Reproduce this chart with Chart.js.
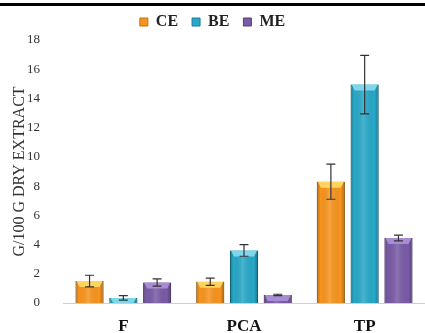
<!DOCTYPE html>
<html>
<head>
<meta charset="utf-8">
<script src="https://cdn.jsdelivr.net/npm/chart.js@4.4.0/dist/chart.umd.min.js"></script>
<style>
  html, body { margin: 0; padding: 0; background: #fff; }
  #wrap { width: 425px; height: 333px; position: relative; }
</style>
</head>
<body>
<div id="wrap"><canvas id="barChart" width="425" height="333"></canvas></div>
<script>
// categories and values
const categories = ['F', 'PCA', 'TP'];
const seriesNames = ['CE', 'BE', 'ME'];
const ceValues = [1.5, 1.45, 8.3];
const beValues = [0.35, 3.6, 14.95];
const meValues = [1.4, 0.55, 4.45];
// +/- error
const ceErr = [0.4, 0.25, 1.2];
const beErr = [0.15, 0.4, 2.0];
const meErr = [0.25, 0.05, 0.2];
const yTicks = [0, 2, 4, 6, 8, 10, 12, 14, 16, 18];

const baseColors = ['#F7941D', '#28A8C8', '#7A5BA6'];
const capColors = ['#FFD45C', '#7FD6EA', '#A98DD4'];
const errs = [ceErr, beErr, meErr];

// shading + error bars drawn on top of the plain bars
const barDecor = {
  id: 'barDecor',
  afterDatasetsDraw(chart) {
    const c = chart.ctx;
    const yScale = chart.scales.y;
    chart.data.datasets.forEach((ds, di) => {
      const meta = chart.getDatasetMeta(di);
      meta.data.forEach((bar, i) => {
        const p = bar.getProps(['x', 'y', 'base', 'width'], true);
        const l = p.x - p.width / 2, r = p.x + p.width / 2;
        const h = p.base - p.y;
        c.save();
        let g = c.createLinearGradient(l, 0, r, 0);
        g.addColorStop(0, 'rgba(0,0,0,0.28)');
        g.addColorStop(0.12, 'rgba(0,0,0,0.0)');
        g.addColorStop(0.45, 'rgba(255,255,255,0.15)');
        g.addColorStop(0.85, 'rgba(0,0,0,0.0)');
        g.addColorStop(1, 'rgba(0,0,0,0.3)');
        c.fillStyle = g;
        c.fillRect(l, p.y, p.width, h);
        // light top cap
        const ch = Math.min(6, h);
        c.fillStyle = capColors[di];
        c.beginPath();
        c.moveTo(l + 1, p.y);
        c.lineTo(r - 1, p.y);
        c.lineTo(r - 4, p.y + ch);
        c.lineTo(l + 4, p.y + ch);
        c.closePath();
        c.fill();
        // error bar
        const v = ds.data[i], e = errs[di][i];
        const yt = yScale.getPixelForValue(v + e);
        const yb = yScale.getPixelForValue(Math.max(0, v - e));
        c.strokeStyle = '#333';
        c.lineWidth = 1.2;
        c.beginPath();
        c.moveTo(p.x, yt); c.lineTo(p.x, yb);
        c.moveTo(p.x - 4.5, yt); c.lineTo(p.x + 4.5, yt);
        c.moveTo(p.x - 4.5, yb); c.lineTo(p.x + 4.5, yb);
        c.stroke();
        c.restore();
      });
    });
    // black rule across the top
    c.save();
    c.fillStyle = '#000';
    c.fillRect(0, 3, chart.width, 3);
    c.restore();
  }
};

const ctx = document.getElementById('barChart').getContext('2d');
const chart = new Chart(ctx, {
  type: 'bar',
  data: {
    labels: categories,
    datasets: [
      { label: seriesNames[0], data: ceValues, backgroundColor: baseColors[0], borderColor: '#C0700E', borderWidth: 1 },
      { label: seriesNames[1], data: beValues, backgroundColor: baseColors[1], borderColor: '#1A7F99', borderWidth: 1 },
      { label: seriesNames[2], data: meValues, backgroundColor: baseColors[2], borderColor: '#573E80', borderWidth: 1 }
    ]
  },
  options: {
    responsive: false,
    animation: false,
    layout: { padding: { top: 0, right: 0, bottom: 0, left: 0 } },
    datasets: { bar: { categoryPercentage: 0.84, barPercentage: 0.83 } },
    plugins: {
      legend: {
        position: 'top',
        labels: {
          boxWidth: 8, boxHeight: 8, padding: 14,
          color: '#222',
          font: { family: '"Liberation Serif", serif', size: 16, weight: 'bold' }
        }
      },
      tooltip: { enabled: false }
    },
    scales: {
      x: {
        grid: { display: false },
        border: { display: true, color: '#cfcfcf', width: 1 },
        ticks: { color: '#111', padding: 5, font: { family: '"Liberation Serif", serif', size: 17, weight: 'bold' } },
        afterFit(s) { s.height = 30; }
      },
      y: {
        min: 0, max: 18,
        grid: { display: false },
        border: { display: false },
        afterBuildTicks(s) { s.ticks = yTicks.map(v => ({ value: v })); },
        ticks: { color: '#333', padding: 15, font: { family: '"Liberation Serif", serif', size: 13 } },
        title: {
          display: true,
          text: 'G/100 G DRY EXTRACT',
          color: '#333',
          padding: { top: 10, bottom: 0 },
          font: { family: '"Liberation Serif", serif', size: 16 }
        },
        afterFit(s) { s.width = 63; }
      }
    }
  },
  plugins: [barDecor]
});
</script>
</body>
</html>
